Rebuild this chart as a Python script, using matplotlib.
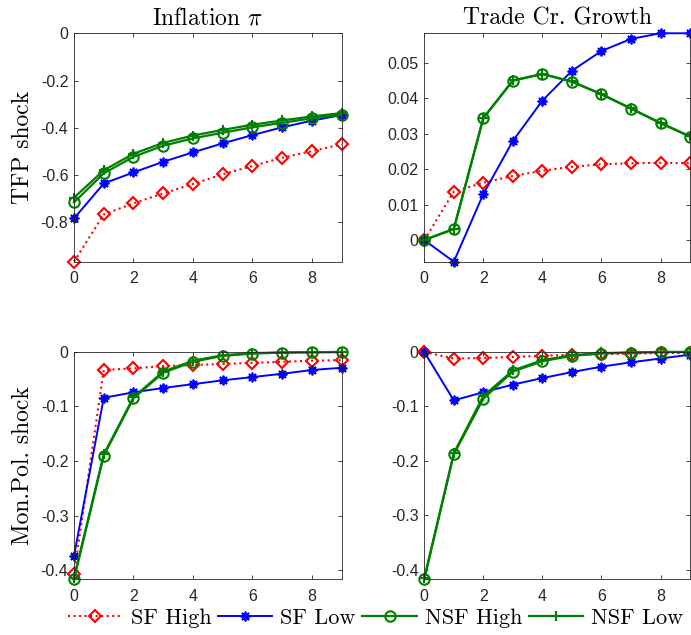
import numpy as np
import matplotlib
matplotlib.use("Agg")
import matplotlib.pyplot as plt

plt.rcParams['mathtext.fontset'] = 'cm'
plt.rcParams['axes.unicode_minus'] = False

horizon = np.arange(10)

# Inflation, TFP shock
infl_tfp_sf_high = [-0.967, -0.767, -0.720, -0.678, -0.638, -0.597, -0.562, -0.527, -0.499, -0.470]
infl_tfp_sf_low = [-0.784, -0.636, -0.589, -0.544, -0.504, -0.466, -0.431, -0.398, -0.370, -0.346]
infl_tfp_nsf_high = [-0.716, -0.593, -0.523, -0.476, -0.445, -0.421, -0.398, -0.379, -0.360, -0.345]
infl_tfp_nsf_low = [-0.696, -0.580, -0.510, -0.464, -0.433, -0.409, -0.387, -0.369, -0.352, -0.338]

# Trade credit growth, TFP shock
tc_tfp_sf_high = [0.0, 0.0137, 0.0162, 0.0181, 0.0196, 0.0207, 0.0214, 0.0217, 0.0218, 0.0217]
tc_tfp_sf_low = [0.0, -0.0061, 0.0130, 0.0280, 0.0394, 0.0478, 0.0534, 0.0568, 0.0584, 0.0584]
tc_tfp_nsf_high = [0.0, 0.0031, 0.0344, 0.0450, 0.0469, 0.0447, 0.0412, 0.0371, 0.0330, 0.0292]
tc_tfp_nsf_low = [0.0, 0.0032, 0.0345, 0.0451, 0.0469, 0.0448, 0.0412, 0.0372, 0.0331, 0.0293]

# Inflation, monetary policy shock
infl_mp_sf_high = [-0.408, -0.033, -0.030, -0.026, -0.024, -0.022, -0.020, -0.018, -0.016, -0.015]
infl_mp_sf_low = [-0.374, -0.084, -0.074, -0.066, -0.059, -0.052, -0.046, -0.040, -0.033, -0.029]
infl_mp_nsf_high = [-0.417, -0.190, -0.085, -0.038, -0.018, -0.007, -0.003, -0.001, -0.0005, 0.0]
infl_mp_nsf_low = [-0.414, -0.188, -0.083, -0.036, -0.016, -0.006, -0.002, -0.001, -0.0004, 0.0]

# Trade credit growth, monetary policy shock
tc_mp_sf_high = [0.0, -0.012, -0.011, -0.009, -0.007, -0.005, -0.004, -0.003, -0.002, -0.002]
tc_mp_sf_low = [0.0, -0.089, -0.074, -0.060, -0.048, -0.037, -0.027, -0.019, -0.012, -0.005]
tc_mp_nsf_high = [-0.418, -0.188, -0.086, -0.036, -0.017, -0.007, -0.003, -0.001, 0.0, 0.0]
tc_mp_nsf_low = [-0.416, -0.186, -0.081, -0.034, -0.015, -0.006, -0.002, -0.001, 0.0, 0.0]

panels = [
    (infl_tfp_sf_high, infl_tfp_sf_low, infl_tfp_nsf_high, infl_tfp_nsf_low),
    (tc_tfp_sf_high, tc_tfp_sf_low, tc_tfp_nsf_high, tc_tfp_nsf_low),
    (infl_mp_sf_high, infl_mp_sf_low, infl_mp_nsf_high, infl_mp_nsf_low),
    (tc_mp_sf_high, tc_mp_sf_low, tc_mp_nsf_high, tc_mp_nsf_low),
]
titles = [r'Inflation $\pi$', 'Trade Cr. Growth']
row_labels = ['TFP shock', 'Mon.Pol. shock']
yticks = [[0, -0.2, -0.4, -0.6, -0.8], [0, 0.01, 0.02, 0.03, 0.04, 0.05],
          [0, -0.1, -0.2, -0.3, -0.4], [0, -0.1, -0.2, -0.3, -0.4]]
series_labels = ['SF High', 'SF Low', 'NSF High', 'NSF Low']

green = (0, 0.5, 0)
styles = [
    dict(color='red', ls=':', lw=1.5, marker='D', ms=6.5, mfc='none', mew=1.5),
    dict(color='blue', ls='-', lw=1.4, marker=(8, 2, 0), ms=7, mew=1.3),
    dict(color=green, ls='-', lw=1.6, marker='o', ms=7.5, mfc='none', mew=1.5),
    dict(color=green, ls='-', lw=1.6, marker='+', ms=7, mew=1.5),
]

positions = [
    [0.1071, 0.5879, 0.3874, 0.3597],
    [0.6140, 0.5879, 0.3846, 0.3597],
    [0.1071, 0.0877, 0.3874, 0.3580],
    [0.6140, 0.0877, 0.3846, 0.3580],
]

serif = 'cmr10'
fig = plt.figure(figsize=(6.91, 6.35), dpi=100)
tick_color = '#262626'
handles = []
for i, (series, pos) in enumerate(zip(panels, positions)):
    ax = fig.add_axes(pos)
    for vals, st, lab in zip(series, styles, series_labels):
        h, = ax.plot(horizon, vals, label=lab, clip_on=False, **st)
        if i == 0:
            handles.append(h)
    allv = np.concatenate([np.asarray(s) for s in series])
    ax.set_ylim(min(allv.min(), 0), max(allv.max(), 0))
    ax.set_xlim(0, 9)
    ax.set_xticks([0, 2, 4, 6, 8])
    ax.set_yticks(yticks[i])
    ax.set_yticklabels([('%g' % t) for t in yticks[i]])
    ax.tick_params(direction='in', top=True, right=True, length=3, width=0.6,
                   color=tick_color, labelcolor=tick_color, labelsize=11.5)
    ax.tick_params(axis='x', pad=7)
    ax.tick_params(axis='y', pad=4)
    for lbl in ax.get_xticklabels() + ax.get_yticklabels():
        lbl.set_fontfamily('Liberation Sans')
    for sp in ax.spines.values():
        sp.set_color(tick_color)
        sp.set_linewidth(0.6)
    if i < 2:
        ax.set_title(titles[i], fontsize=17, pad=6, fontfamily=serif)
    if i % 2 == 0:
        cy = pos[1] + pos[3] / 2
        fig.text(23 / 691, cy, row_labels[i // 2], rotation=90, fontsize=17,
                 ha='center', va='center', fontfamily=serif)

fig.legend(handles=handles, loc='center', bbox_to_anchor=(0.544, 0.026), ncol=4,
           frameon=False, prop={'family': serif, 'size': 16}, handlelength=2.45,
           handletextpad=0.36, columnspacing=0.3, borderpad=0)

fig.savefig('out.png', dpi=100)
plt.close(fig)
